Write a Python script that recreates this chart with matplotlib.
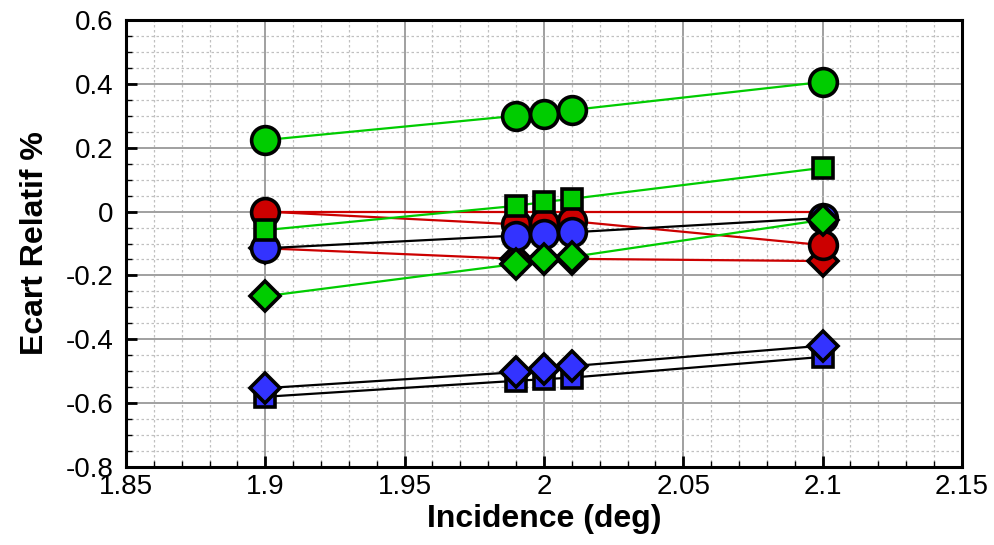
import numpy as np
import matplotlib.pyplot as plt
from matplotlib.ticker import MultipleLocator

plt.rcParams['font.family'] = ['Liberation Sans', 'DejaVu Sans']

incidence = [1.9, 1.99, 2.0, 2.01, 2.1]

# red group (red line)
red_circle = [0.0, -0.04, -0.035, -0.03, -0.105]
red_flat = [0.0, 0.0, 0.0, 0.0, 0.0]      # line only, markers hidden
red_diamond = [-0.115, -0.148, -0.148, -0.148, -0.155]

# blue group (black line)
blue_circle = [-0.115, -0.075, -0.07, -0.065, -0.02]
blue_square = [-0.58, -0.53, -0.525, -0.52, -0.455]
blue_diamond = [-0.553, -0.503, -0.494, -0.484, -0.42]

# green group (green line)
green_circle = [0.224, 0.30, 0.306, 0.318, 0.406]
green_square = [-0.058, 0.018, 0.03, 0.04, 0.137]
green_diamond = [-0.265, -0.164, -0.15, -0.142, -0.026]

RED = '#CC0000'
BLUE = '#3333FF'
GREEN = '#00CC00'

series = [
    (red_flat, None, RED, RED),
    (red_diamond, 'D', RED, RED),
    (red_circle, 'o', RED, RED),
    (blue_circle, 'o', BLUE, 'black'),
    (blue_square, 's', BLUE, 'black'),
    (blue_diamond, 'D', BLUE, 'black'),
    (green_circle, 'o', GREEN, GREEN),
    (green_square, 's', GREEN, GREEN),
    (green_diamond, 'D', GREEN, GREEN),
]
msize = {'o': 20, 's': 15, 'D': 15.5}

fig = plt.figure(figsize=(9.95, 5.45), dpi=100)
ax = fig.add_axes([0.1266, 0.1431, 0.8402, 0.8202])

for vals, m, fc, lc in series:
    ax.plot(incidence, vals, color=lc, lw=1.6, zorder=3)
    if m is not None:
        ax.plot(incidence, vals, ls='none', marker=m, markersize=msize[m],
                markerfacecolor=fc, markeredgecolor='black',
                markeredgewidth=2.6, zorder=4)

ax.set_xlim(1.85, 2.15)
ax.set_ylim(-0.8, 0.6)
ax.xaxis.set_minor_locator(MultipleLocator(0.01))
ax.yaxis.set_minor_locator(MultipleLocator(0.05))

ax.set_xticks(np.arange(1.85, 2.151, 0.05))
ax.set_xticklabels(['1.85', '1.9', '1.95', '2', '2.05', '2.1', '2.15'])
ax.set_yticks(np.arange(-0.8, 0.601, 0.2))
ax.set_yticklabels(['-0.8', '-0.6', '-0.4', '-0.2', '0', '0.2', '0.4', '0.6'])

ax.grid(which='major', color='#A0A0A0', lw=1.4, ls='-', zorder=1)
ax.grid(which='minor', color='#C0C0C0', lw=0.9, ls=(0, (2, 2)), zorder=1)

ax.tick_params(which='major', direction='in', length=8, width=2,
               labelsize=20, top=False, right=False)
ax.tick_params(axis='y', which='major', pad=9)
ax.tick_params(axis='x', which='major', pad=5)
ax.tick_params(which='minor', direction='in', length=4, width=1,
               top=False, right=False)
for s in ax.spines.values():
    s.set_linewidth(2.2)

ax.set_xlabel('Incidence (deg)', fontsize=23, fontweight='bold', labelpad=3)
ax.set_ylabel('Ecart Relatif %', fontsize=23, fontweight='bold', labelpad=11)

fig.savefig('out.png', dpi=100)
